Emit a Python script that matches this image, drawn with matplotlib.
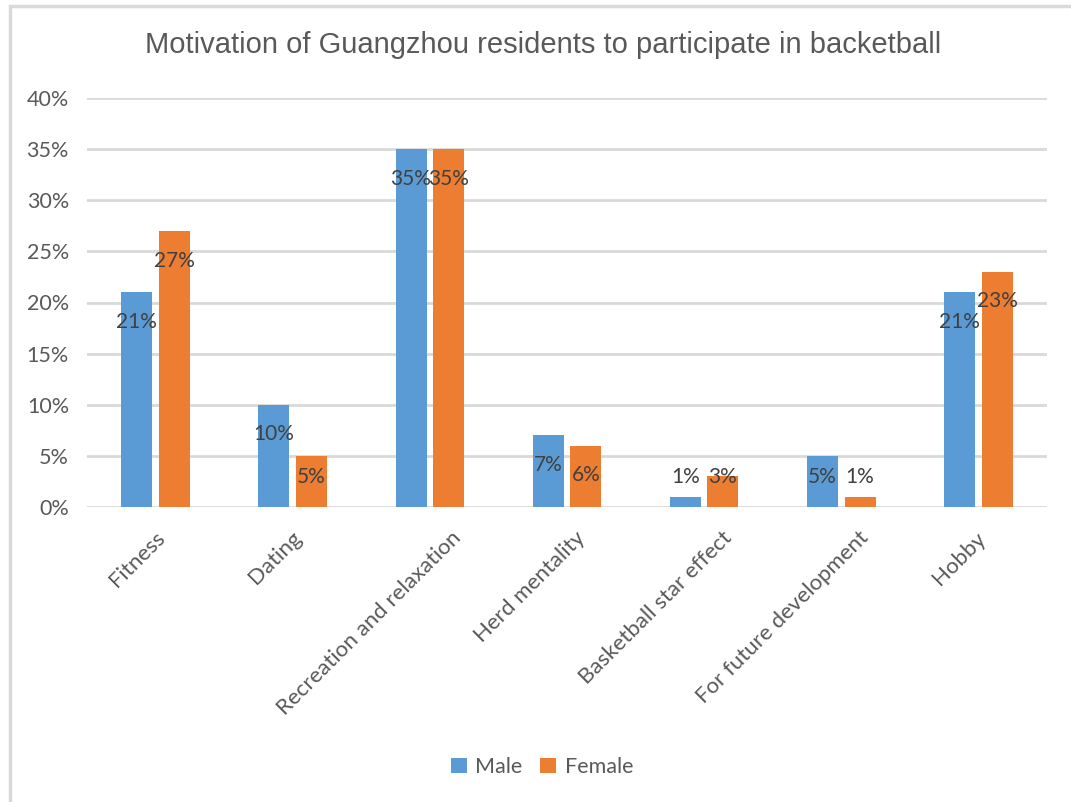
import matplotlib
matplotlib.use("Agg")
import matplotlib.pyplot as plt
import matplotlib.transforms as mtransforms
from matplotlib.patches import Rectangle
import numpy as np

categories = ['Fitness', 'Dating', 'Recreation and relaxation', 'Herd mentality',
              'Basketball star effect', 'For future development', 'Hobby']
male = [21, 10, 35, 7, 1, 5, 21]
female = [27, 5, 35, 6, 3, 1, 23]
yticks = [0, 5, 10, 15, 20, 25, 30, 35, 40]

blue = '#5B9BD5'
orange = '#ED7D31'
grey_text = '#595959'
grid_col = '#D9D9D9'

plt.rcParams['font.family'] = ['Lato', 'DejaVu Sans']

fig = plt.figure(figsize=(10.71, 8.02), dpi=100)
ax = fig.add_axes([87 / 1071, 1 - 507 / 802, 960 / 1071, 409 / 802])

# outer chart frame
fig.patches.append(Rectangle((10 / 1071, -0.1), 1.2, 1 - 6 / 802 + 0.1,
                             transform=fig.transFigure, fill=False,
                             edgecolor=grid_col, linewidth=2.5))

x = np.arange(len(categories))
w = 0.226
off = 0.137
ax.bar(x - off, male, w, color=blue, label='Male', zorder=3)
ax.bar(x + off, female, w, color=orange, label='Female', zorder=3)

def label_y(v):
    return max(v - 2.9, 2.9)

for i in range(len(categories)):
    ax.text(x[i] - off, label_y(male[i]), '%d%%' % male[i], ha='center', va='center',
            fontsize=15, color='#404040', zorder=4)
    ax.text(x[i] + off, label_y(female[i]), '%d%%' % female[i], ha='center', va='center',
            fontsize=15, color='#404040', zorder=4)

ax.set_xlim(-0.5, len(categories) - 0.5)
ax.set_ylim(0, 40)
ax.set_yticks(yticks)
ax.set_yticklabels(['%d%%' % t for t in yticks])
ax.grid(axis='y', color=grid_col, linewidth=2, zorder=0)
ax.tick_params(axis='y', length=0, pad=13, labelsize=15.5, labelcolor=grey_text)
ax.tick_params(axis='x', length=0, pad=15, labelsize=16, labelcolor=grey_text)
ax.set_xticks(x)
ax.set_xticklabels(categories, rotation=45, ha='right', rotation_mode='anchor')
# longer rotated labels sit a bit further right, like Excel does
for lbl in ax.get_xticklabels():
    dx = min(1.2 * len(lbl.get_text()) - 3, 29) - 6
    lbl.set_transform(lbl.get_transform() +
                      mtransforms.ScaledTranslation(dx / 100, 0, fig.dpi_scale_trans))
for s in ax.spines.values():
    s.set_visible(False)

fig.text(0.507, 1 - 45 / 802, 'Motivation of Guangzhou residents to participate in backetball',
         ha='center', va='center', fontsize=21, color=grey_text,
         family=['Liberation Sans', 'DejaVu Sans'])

fig.legend(loc='center', bbox_to_anchor=(0.506, 1 - 767 / 802), ncol=2, frameon=False,
           fontsize=15.5, handlelength=0.75, handleheight=0.75, handletextpad=0.4,
           columnspacing=0.8, labelcolor=grey_text)

fig.savefig('out.png', dpi=100, facecolor='white')
